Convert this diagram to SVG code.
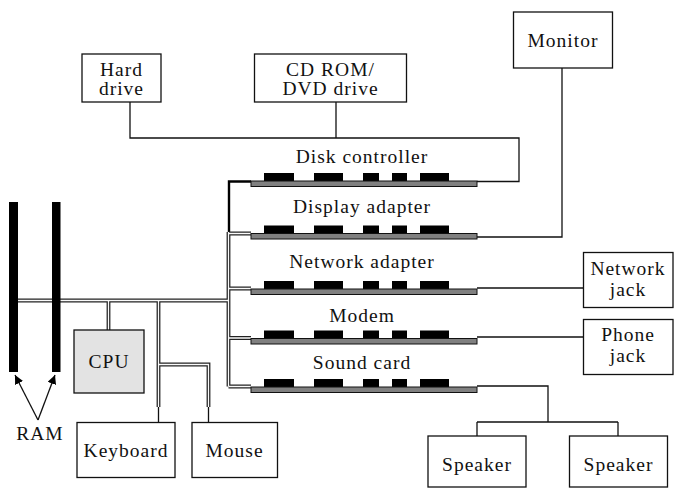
<svg xmlns="http://www.w3.org/2000/svg" width="674" height="488" viewBox="0 0 674 488">
<style>
.box{fill:#fff;stroke:#111;stroke-width:1.3}
.cpu{fill:#e3e3e3;stroke:#111;stroke-width:1.3}
.ln{fill:none;stroke:#111;stroke-width:1.3}
.thick{fill:none;stroke:#000;stroke-width:2.4}
.bo{fill:none;stroke:#222;stroke-width:3.8}
.bi{fill:none;stroke:#fafafa;stroke-width:1.3}
.bar{fill:#808080;stroke:#111;stroke-width:1}
.chip{fill:#000}
.ram{fill:#000}
</style>
<defs>
<marker id="ah" viewBox="0 0 10 10" refX="10" refY="5" markerWidth="9" markerHeight="9" markerUnits="userSpaceOnUse" orient="auto">
<path d="M0,0 L10,5 L0,10 z" fill="#000"/>
</marker>
<g id="card">
<rect class="chip" x="264" y="-8" width="30" height="8"/>
<rect class="chip" x="314" y="-8" width="29" height="8"/>
<rect class="chip" x="363" y="-8" width="16" height="8"/>
<rect class="chip" x="392" y="-8" width="15" height="8"/>
<rect class="chip" x="420" y="-8" width="29" height="8"/>
<rect class="bar" x="251" y="0" width="226" height="5.5"/>
</g>
</defs>

<g id="connectors">
<path class="ln" d="M130,102 V138 H519 V181.5 H477 M336,102 V138"/>
<path class="ln" d="M562,68 V237 H477"/>
<path class="ln" d="M477,288 H583"/>
<path class="ln" d="M477,337 H583"/>
<path class="ln" d="M477,386 H548 V422 M477,422 H618 M477,422 V436 M618,422 V436"/>
<path class="thick" d="M251,181.5 H229 V232"/>
<path class="ln" d="M158.5,406 V422 M208.5,406 V422"/>
<g id="bus-outer" class="bo">
<path d="M17,300.5 H228.5 M228.5,232 V386.5 M228.5,233.5 H251 M228.5,288.5 H251 M228.5,338 H251 M228.5,386.5 H251"/>
<path d="M108.5,300.5 V330 M158.5,300.5 V407 M158.5,364.5 H208.5 V407"/>
</g>
<g id="bus-inner" class="bi">
<path d="M17,300.5 H228.5 M228.5,232 V386.5 M228.5,233.5 H251 M228.5,288.5 H251 M228.5,338 H251 M228.5,386.5 H251"/>
<path d="M108.5,300.5 V330 M158.5,300.5 V407 M158.5,364.5 H208.5 V407"/>
</g>
<path class="ln" d="M38,420 L55,375" marker-end="url(#ah)"/>
<path class="ln" d="M38,420 L15,375" marker-end="url(#ah)"/>
</g>

<g font-family="'Liberation Serif', 'DejaVu Serif', serif" font-size="19.5" fill="#111" text-anchor="middle" letter-spacing="1">
<g id="ram">
<rect class="ram" x="9" y="202" width="9" height="170"/>
<rect class="ram" x="52" y="202" width="8.5" height="170"/>
<text x="40" y="440">RAM</text>
</g>

<g id="hard-drive">
<rect class="box" x="82" y="54" width="79" height="48"/>
<text x="121.5" y="76">Hard</text>
<text x="121.5" y="95">drive</text>
</g>
<g id="cd-rom">
<rect class="box" x="254.5" y="54" width="152" height="48"/>
<text x="330.5" y="76">CD ROM/</text>
<text x="330.5" y="95">DVD drive</text>
</g>
<g id="monitor">
<rect class="box" x="513.5" y="12" width="99" height="56"/>
<text x="563" y="47">Monitor</text>
</g>

<g id="disk-controller">
<use href="#card" y="181"/>
<text x="362" y="163">Disk controller</text>
</g>
<g id="display-adapter">
<use href="#card" y="233.5"/>
<text x="362" y="213">Display adapter</text>
</g>
<g id="network-adapter">
<use href="#card" y="289"/>
<text x="362" y="268">Network adapter</text>
</g>
<g id="modem">
<use href="#card" y="338.5"/>
<text x="362" y="322">Modem</text>
</g>
<g id="sound-card">
<use href="#card" y="387"/>
<text x="362" y="369">Sound card</text>
</g>

<g id="network-jack">
<rect class="box" x="583.5" y="252.5" width="89.5" height="55"/>
<text x="628" y="275">Network</text>
<text x="628" y="296">jack</text>
</g>
<g id="phone-jack">
<rect class="box" x="583.5" y="319.5" width="89.5" height="55"/>
<text x="628" y="341">Phone</text>
<text x="628" y="362">jack</text>
</g>

<g id="cpu">
<rect class="cpu" x="74" y="330" width="70" height="63"/>
<text x="109" y="368">CPU</text>
</g>
<g id="keyboard">
<rect class="box" x="77" y="422.5" width="98" height="55"/>
<text x="126" y="457">Keyboard</text>
</g>
<g id="mouse">
<rect class="box" x="192" y="422.5" width="85.5" height="55"/>
<text x="234.5" y="457">Mouse</text>
</g>

<g id="speaker-1">
<rect class="box" x="428" y="436" width="98" height="51"/>
<text x="477" y="471">Speaker</text>
</g>
<g id="speaker-2">
<rect class="box" x="569.5" y="436" width="98" height="51"/>
<text x="618.5" y="471">Speaker</text>
</g>
</g>
</svg>
